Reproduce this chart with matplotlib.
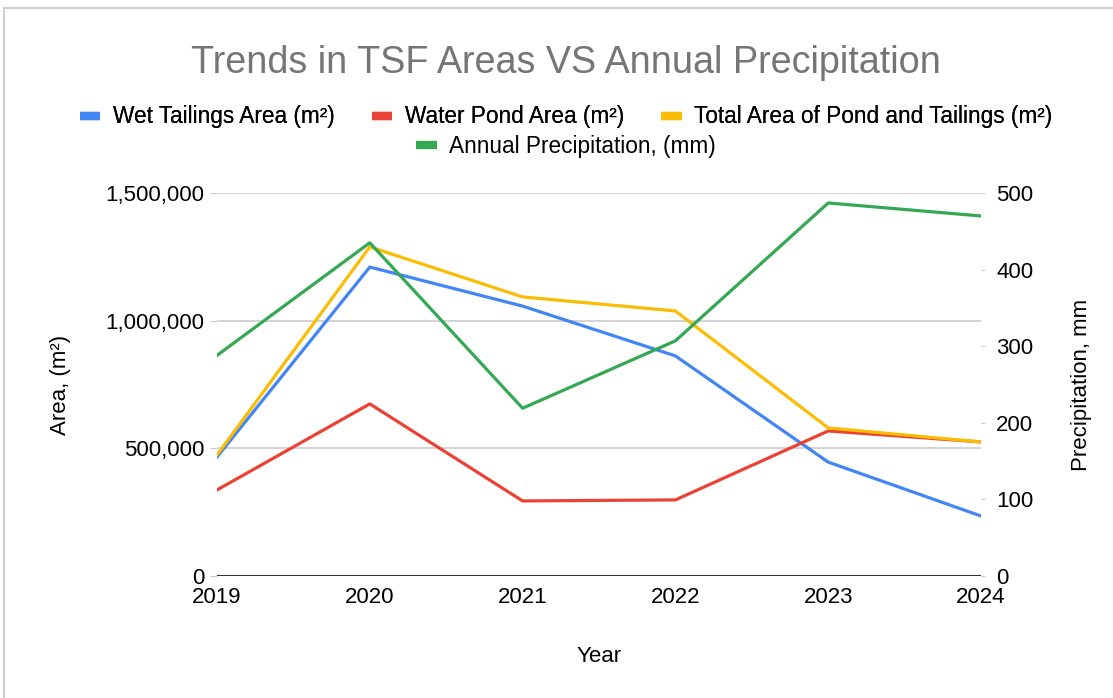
import matplotlib.pyplot as plt
from matplotlib.lines import Line2D
from matplotlib.patches import Rectangle
from matplotlib.ticker import FuncFormatter

plt.rcParams['font.family'] = ['Liberation Sans', 'DejaVu Sans']

years = [2019, 2020, 2021, 2022, 2023, 2024]
wet_tailings = [466000, 1210000, 1057000, 862000, 446000, 235000]
water_pond = [337000, 674000, 294000, 298000, 568000, 525000]
total_area = [474000, 1289000, 1093000, 1038000, 580000, 525000]
precip = [288, 435, 219, 307, 487, 470]

c_blue = '#4285F4'
c_red = '#EA4335'
c_yellow = '#FBBC04'
c_green = '#34A853'

fig = plt.figure(figsize=(11.13, 6.98), dpi=100)
ax = fig.add_axes([217/1113, 1 - 576/698, (981 - 217)/1113, (576 - 193)/698])
ax2 = ax.twinx()

# frame around the chart (screenshot border)
fig.patches.append(Rectangle((4/1113, -0.1), 1.2, (698 - 8)/698 + 0.1,
                             transform=fig.transFigure, fill=False,
                             edgecolor='#d0d0d0', linewidth=1.5))

lw = 2.3
ax.plot(years, wet_tailings, color=c_blue, lw=lw, zorder=3)
ax.plot(years, water_pond, color=c_red, lw=lw, zorder=3)
ax.plot(years, total_area, color=c_yellow, lw=lw, zorder=4)
ax2.plot(years, precip, color=c_green, lw=lw, zorder=3)

ax.set_xlim(2019, 2024)
ax.set_ylim(0, 1500000)
ax2.set_ylim(0, 500)
ax.set_xticks(years)
ax.set_yticks([0, 500000, 1000000, 1500000])
ax2.set_yticks([0, 100, 200, 300, 400, 500])
ax.yaxis.set_major_formatter(FuncFormatter(lambda v, p: f'{int(v):,}'))

ax.grid(axis='y', color='#cccccc', linewidth=1.2, zorder=0)
ax.axhline(0, color='#333333', linewidth=1.5, zorder=5)
for a in (ax, ax2):
    for s in a.spines.values():
        s.set_visible(False)
ax.tick_params(axis='y', length=5, color='#cccccc', labelsize=16, pad=4)
ax.tick_params(axis='x', length=0, labelsize=16, pad=8)
ax2.tick_params(axis='y', length=3, color='#cccccc', labelsize=16, pad=8)

ax.set_xlabel('Year', fontsize=16, labelpad=27)
ax.set_ylabel('Area, (m²)', fontsize=16, labelpad=25)
ax2.set_ylabel('Precipitation, mm', fontsize=16, labelpad=27)

fig.text(566/1113, 1 - 63/698, 'Trends in TSF Areas VS Annual Precipitation',
         ha='center', va='center', fontsize=27.2, color='#757575')

def handle(c):
    return Line2D([], [], color=c, lw=6, solid_capstyle='butt')

leg1 = fig.legend([handle(c_blue), handle(c_red), handle(c_yellow)],
                  ['Wet Tailings Area (m²)', 'Water Pond Area (m²)',
                   'Total Area of Pond and Tailings (m²)'],
                  loc='center', bbox_to_anchor=(566/1113, 1 - 117/698), ncol=3,
                  frameon=False, fontsize=16.3, handlelength=0.9,
                  handletextpad=0.55, columnspacing=1.65)
fig.add_artist(leg1)
fig.legend([handle(c_green)], ['Annual Precipitation, (mm)'],
           loc='center', bbox_to_anchor=(566/1113, 1 - 146/698),
           frameon=False, fontsize=16.3, handlelength=0.9, handletextpad=0.55)

fig.savefig('out.png', dpi=100)
